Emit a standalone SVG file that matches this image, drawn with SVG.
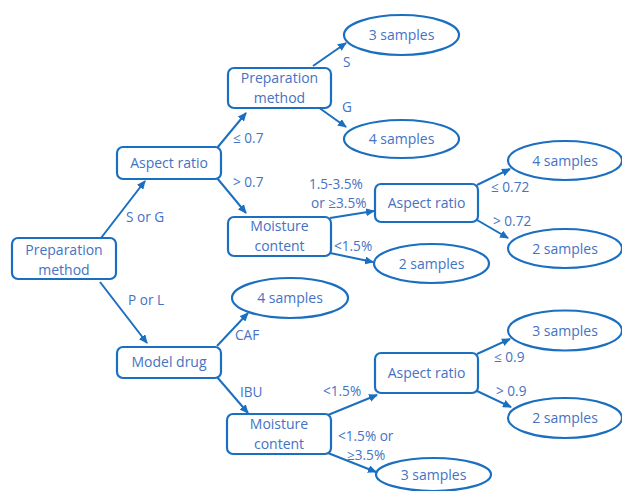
<svg xmlns="http://www.w3.org/2000/svg" width="622" height="491" viewBox="0 0 622 491">
<defs>
<marker id="ah" markerUnits="userSpaceOnUse" markerWidth="10" markerHeight="8" refX="8" refY="4" orient="auto">
<path d="M0,0 L9,4 L0,8 Z" fill="#1a6fc0"/>
</marker>
<style>
.box{fill:#fff;stroke:#1a6fc0;stroke-width:2.2}
.ell{fill:#fff;stroke:#1a6fc0;stroke-width:2.2}
.t{font-family:"Open Sans","Liberation Sans",sans-serif;font-size:14px;fill:#4472c4;text-anchor:middle}
.l{font-family:"Open Sans","Liberation Sans",sans-serif;font-size:13.6px;fill:#4472c4}
.e{stroke:#1a6fc0;stroke-width:2;fill:none;marker-end:url(#ah)}
</style>
</defs>
<rect width="622" height="491" fill="#fff"/>
<g id="connectors">
<line class="e" x1="101" y1="238" x2="145" y2="181"/>
<line class="e" x1="217" y1="148" x2="246" y2="113"/>
<line class="e" x1="217" y1="178" x2="246" y2="213"/>
<line class="e" x1="100" y1="282" x2="147" y2="343"/>
<line class="e" x1="217" y1="346" x2="248" y2="313"/>
<line class="e" x1="217" y1="377" x2="248" y2="413"/>
<line class="e" x1="313" y1="66" x2="346" y2="43"/>
<line class="e" x1="318" y1="107" x2="346" y2="127"/>
<line class="e" x1="330" y1="218" x2="374" y2="211"/>
<line class="e" x1="330" y1="253" x2="373" y2="262"/>
<line class="e" x1="477" y1="185" x2="510" y2="169"/>
<line class="e" x1="477" y1="220" x2="508" y2="238"/>
<line class="e" x1="328" y1="415" x2="377" y2="395"/>
<line class="e" x1="328" y1="453" x2="376" y2="472"/>
<line class="e" x1="477" y1="354" x2="510" y2="339"/>
<line class="e" x1="477" y1="391" x2="511" y2="407"/>
</g>
<g id="labels">
<text class="l" x="126" y="222">S or G</text>
<text class="l" x="233" y="143">≤ 0.7</text>
<text class="l" x="233" y="187">&gt; 0.7</text>
<text class="l" x="343" y="67">S</text>
<text class="l" x="342" y="112">G</text>
<text class="l" x="309" y="189">1.5-3.5%</text>
<text class="l" x="311" y="208">or ≥3.5%</text>
<text class="l" x="334" y="251">&lt;1.5%</text>
<text class="l" x="491" y="192">≤ 0.72</text>
<text class="l" x="493" y="226">&gt; 0.72</text>
<text class="l" x="128" y="305">P or L</text>
<text class="l" x="235" y="340">CAF</text>
<text class="l" x="240" y="397">IBU</text>
<text class="l" x="323" y="396">&lt;1.5%</text>
<text class="l" x="338" y="441">&lt;1.5% or</text>
<text class="l" x="347" y="460">≥3.5%</text>
<text class="l" x="494" y="362">≤ 0.9</text>
<text class="l" x="496" y="396">&gt; 0.9</text>
</g>
<g id="n-root">
<rect class="box" x="12" y="238" width="104" height="41" rx="6"/>
<text class="t" x="64" y="255">Preparation</text>
<text class="t" x="64" y="275">method</text>
</g>
<g id="n-aspect1">
<rect class="box" x="117" y="147" width="104" height="32" rx="6"/>
<text class="t" x="169" y="168">Aspect ratio</text>
</g>
<g id="n-prep2">
<rect class="box" x="228" y="68" width="103" height="40" rx="6"/>
<text class="t" x="279.5" y="83">Preparation</text>
<text class="t" x="279.5" y="103">method</text>
</g>
<g id="n-moist1">
<rect class="box" x="228" y="217" width="103" height="39" rx="6"/>
<text class="t" x="279.5" y="231">Moisture</text>
<text class="t" x="279.5" y="251">content</text>
</g>
<g id="n-s3a">
<ellipse class="ell" cx="401.5" cy="35" rx="57.5" ry="20"/>
<text class="t" x="401.5" y="40">3 samples</text>
</g>
<g id="n-s4a">
<ellipse class="ell" cx="401.5" cy="139" rx="57.5" ry="19"/>
<text class="t" x="401.5" y="144">4 samples</text>
</g>
<g id="n-aspect2">
<rect class="box" x="375" y="184" width="103" height="38" rx="6"/>
<text class="t" x="426.5" y="208">Aspect ratio</text>
</g>
<g id="n-s4b">
<ellipse class="ell" cx="565" cy="160.5" rx="57" ry="19.5"/>
<text class="t" x="565" y="165.5">4 samples</text>
</g>
<g id="n-s2a">
<ellipse class="ell" cx="565" cy="248.5" rx="57" ry="19.5"/>
<text class="t" x="565" y="253.5">2 samples</text>
</g>
<g id="n-s2b">
<ellipse class="ell" cx="431.5" cy="263.5" rx="57.5" ry="19.5"/>
<text class="t" x="431.5" y="268.5">2 samples</text>
</g>
<g id="n-s4c">
<ellipse class="ell" cx="290" cy="298" rx="58" ry="20"/>
<text class="t" x="290" y="303">4 samples</text>
</g>
<g id="n-drug">
<rect class="box" x="117" y="347" width="104" height="31" rx="6"/>
<text class="t" x="169" y="367">Model drug</text>
</g>
<g id="n-moist2">
<rect class="box" x="227" y="414" width="104" height="40" rx="6"/>
<text class="t" x="279" y="429">Moisture</text>
<text class="t" x="279" y="449">content</text>
</g>
<g id="n-aspect3">
<rect class="box" x="375" y="353" width="103" height="40" rx="6"/>
<text class="t" x="426.5" y="378">Aspect ratio</text>
</g>
<g id="n-s3b">
<ellipse class="ell" cx="565" cy="330.5" rx="57" ry="20"/>
<text class="t" x="565" y="335.5">3 samples</text>
</g>
<g id="n-s2c">
<ellipse class="ell" cx="565" cy="418" rx="57" ry="20"/>
<text class="t" x="565" y="423">2 samples</text>
</g>
<g id="n-s3c">
<ellipse class="ell" cx="433.5" cy="474.5" rx="57.5" ry="16.5"/>
<text class="t" x="433.5" y="480">3 samples</text>
</g>
</svg>
